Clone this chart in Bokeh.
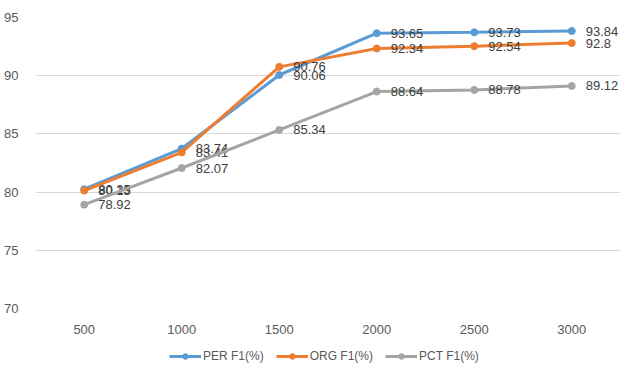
from bokeh.plotting import figure
from bokeh.layouts import column
from bokeh.models import Legend, LegendItem, ColumnDataSource, FixedTicker
from bokeh.core.properties import value
from bokeh.embed import file_html
from bokeh.resources import INLINE

sizes = ["500", "1000", "1500", "2000", "2500", "3000"]
per_f1 = [80.25, 83.74, 90.06, 93.65, 93.73, 93.84]
org_f1 = [80.13, 83.41, 90.76, 92.34, 92.54, 92.8]
pct_f1 = [78.92, 82.07, 85.34, 88.64, 88.78, 89.12]
series_names = ["PER F1(%)", "ORG F1(%)", "PCT F1(%)"]
colors = ["#5B9BD5", "#ED7D31", "#A5A5A5"]
y_ticks = [70, 75, 80, 85, 90, 95]

FONT = "Liberation Sans"
W = 624

p = figure(width=W, height=336, x_range=sizes, y_range=(70, 95),
           output_backend="svg", toolbar_location=None,
           min_border_left=35, min_border_right=4, min_border_top=17, min_border_bottom=27)
p.outline_line_color = None
p.border_fill_color = "white"

p.xgrid.grid_line_color = None
p.ygrid.grid_line_color = "#D9D9D9"
p.ygrid.grid_line_width = 1
p.yaxis.ticker = FixedTicker(ticks=y_ticks)
for ax in (p.xaxis[0], p.yaxis[0]):
    ax.axis_line_color = None
    ax.major_tick_line_color = None
    ax.minor_tick_line_color = None
    ax.major_label_text_color = "#595959"
    ax.major_label_text_font = FONT
    ax.major_label_text_font_size = "13px"
p.yaxis.major_label_standoff = 11
p.xaxis.major_label_standoff = 10

# legend holder figure below the chart (its ranges keep the copies out of view)
lg = figure(width=W, height=36, x_range=sizes, y_range=(0, 1),
            output_backend="svg", toolbar_location=None,
            x_axis_location=None, y_axis_location=None,
            min_border_left=0, min_border_right=0, min_border_top=0, min_border_bottom=0)
lg.outline_line_color = None
lg.grid.grid_line_color = None

items = []
for name, vals, col in zip(series_names, [per_f1, org_f1, pct_f1], colors):
    src = ColumnDataSource(dict(x=sizes, y=vals, t=[f"{v:g}" for v in vals]))
    p.line("x", "y", source=src, line_color=col, line_width=3)
    p.scatter("x", "y", source=src, fill_color=col, line_color=col, size=7)
    p.text("x", "y", text="t", source=src, x_offset=14, text_baseline="middle",
           text_align="left", text_color="#404040", text_font=value(FONT),
           text_font_size="13px")
    l1 = lg.line("x", "y", source=src, line_color=col, line_width=3)
    l2 = lg.scatter("x", "y", source=src, fill_color=col, line_color=col, size=7)
    items.append(LegendItem(label=name, renderers=[l1, l2]))

legend = Legend(items=items, orientation="horizontal", location=(134, 9),
                label_text_font=FONT, label_text_font_size="12px",
                label_text_color="#595959", glyph_width=32, glyph_height=14,
                label_standoff=2, spacing=12, padding=2, margin=0,
                border_line_color=None, background_fill_alpha=0)
lg.add_layout(legend)

layout = column(p, lg, spacing=0)
open("out.html", "w").write(file_html(layout, INLINE))
